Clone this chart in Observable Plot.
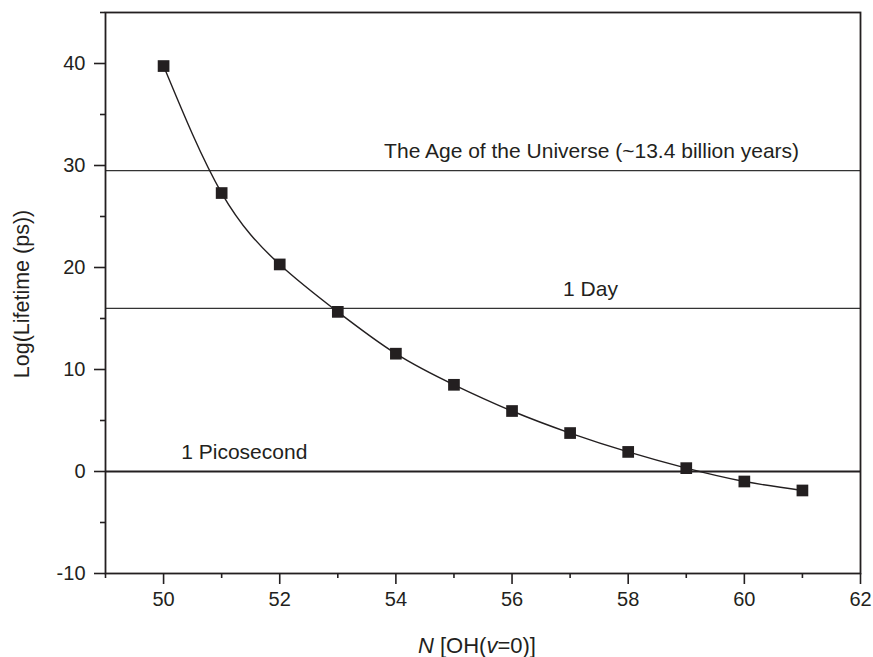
<!DOCTYPE html>
<html><head><meta charset="utf-8">
<script src="https://cdn.jsdelivr.net/npm/d3@7"></script>
<script src="https://cdn.jsdelivr.net/npm/@observablehq/plot@0.6"></script>
<style>body{margin:0;background:#fff}</style>
</head><body><div id="chart"></div>
<script>
// Data
const nValues = [50, 51, 52, 53, 54, 55, 56, 57, 58, 59, 60, 61];
const logLifetime = [39.75, 27.3, 20.3, 15.65, 11.55, 8.5, 5.93, 3.77, 1.92, 0.33, -0.98, -1.86];
const refLines = [29.5, 16];
const picoLine = [0];
const annotationText = ["The Age of the Universe (~13.4 billion years)", "1 Day", "1 Picosecond"];
const annotationX = [57.37, 57.35, 51.39];
const annotationY = [29.5, 16, 0];
const xMajorTicks = [50, 52, 54, 56, 58, 60, 62];
const xMinorTicks = [49, 51, 53, 55, 57, 59, 61];
const yMajorTicks = [-10, 0, 10, 20, 30, 40];
const yMinorTicks = [-5, 5, 15, 25, 35, 45];

const points = nValues.map((n, i) => ({n, y: logLifetime[i]}));
const notes = annotationText.map((t, i) => ({t, x: annotationX[i], y: annotationY[i]}));

const font = "'Liberation Sans', Arial, Helvetica, sans-serif";
const ink = "#231f20";

const chart = Plot.plot({
  width: 873,
  height: 657,
  marginLeft: 105,
  marginRight: 13,
  marginTop: 12,
  marginBottom: 84,
  style: {fontFamily: font, fontSize: "20px", color: ink, background: "#fff"},
  x: {domain: [49, 62]},
  y: {domain: [-10, 45]},
  marks: [
    Plot.axisX({ticks: xMinorTicks, tickSize: 5, tickFormat: () => "", label: null, strokeWidth: 1.6}),
    Plot.axisX({ticks: xMajorTicks, tickSize: 11, tickPadding: 7, tickFormat: d => String(d), label: null, strokeWidth: 1.6, fontSize: 20}),
    Plot.axisY({ticks: yMinorTicks, tickSize: 5, tickFormat: () => "", label: null, strokeWidth: 1.6}),
    Plot.axisY({ticks: yMajorTicks, tickSize: 11, tickPadding: 9, tickFormat: d => String(d), label: null, strokeWidth: 1.6, fontSize: 20}),
    Plot.ruleY(refLines, {stroke: "#333", strokeWidth: 1.3}),
    Plot.ruleY(picoLine, {stroke: ink, strokeWidth: 2}),
    Plot.line(points, {x: "n", y: "y", curve: "natural", stroke: ink, strokeWidth: 1.4}),
    Plot.dot(points, {x: "n", y: "y", symbol: "square", r: 6.6, fill: ink, stroke: null}),
    Plot.text(notes, {x: "x", y: "y", text: "t", dy: -19, fill: ink, fontSize: 21}),
    Plot.frame({stroke: ink, strokeWidth: 1.8})
  ]
});

const svg = d3.select(chart);
svg.append("text")
  .attr("transform", "translate(22,294) rotate(-90)")
  .attr("text-anchor", "middle")
  .attr("dominant-baseline", "central")
  .attr("fill", ink)
  .style("font-size", "21.5px")
  .text("Log(Lifetime (ps))");

const xl = svg.append("text")
  .attr("x", 477)
  .attr("y", 653)
  .attr("text-anchor", "middle")
  .attr("fill", ink)
  .style("font-size", "22px");
xl.append("tspan").style("font-style", "italic").text("N");
xl.append("tspan").text(" [OH(");
xl.append("tspan").style("font-style", "italic").text("v");
xl.append("tspan").text("=0)]");

document.getElementById("chart").appendChild(chart);
</script>
</body></html>
